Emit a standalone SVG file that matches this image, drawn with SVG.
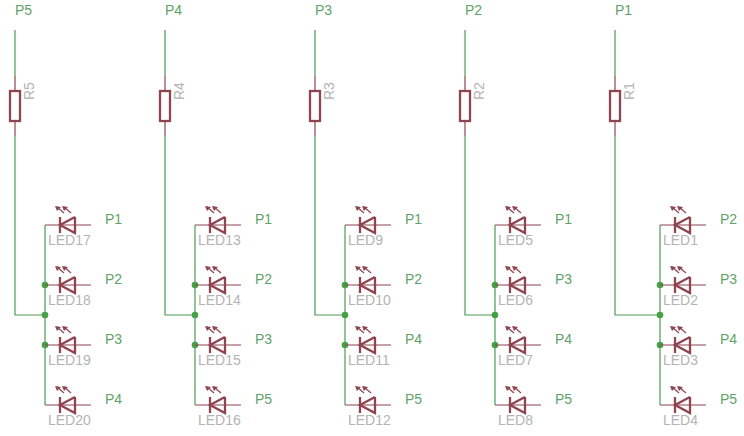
<svg xmlns="http://www.w3.org/2000/svg" xmlns:xlink="http://www.w3.org/1999/xlink" width="744" height="436" viewBox="0 0 744 436">
<style>
.w{stroke:#4f9a55;stroke-width:1.2;fill:none}
.r{stroke:#8f4450;stroke-width:1.2;fill:none}
.b{stroke:#8f4450;stroke-width:2.3;fill:none}
.t{font-family:"Liberation Sans",Arial,sans-serif;font-size:14px;font-weight:normal}
.n{fill:#5fa268}
.g{fill:#b4b4b4}
.d{fill:#46a046}
</style>
<defs>
<g id="led">
<path class="r" d="M0 0H46"/>
<path class="b" d="M15 -8V8M30 -8V8L15 0L30 -8"/>
<path class="r" d="M19 -12L12 -18M26 -12L19 -18"/>
<path fill="#8f4450" d="M10 -19L16 -18L12 -14ZM17 -19L23 -18L19 -14Z"/>
</g>
<g id="res"><path class="r" d="M0 76V91M0 121V136"/><rect class="b" x="-5" y="91" width="10" height="30"/></g>
</defs>
<rect width="744" height="436" fill="#fff"/>
<g id="connectors">
<path class="w" d="M15 30V76M15 136V315H45M45 225V405M165 30V76M165 136V315H195M195 225V405M315 30V76M315 136V315H345M345 225V405M465 30V76M465 136V315H495M495 225V405M615 30V76M615 136V315H660M660 225V405"/>
<circle class="d" cx="45" cy="285" r="3.3"/><circle class="d" cx="45" cy="315" r="3.3"/><circle class="d" cx="45" cy="345" r="3.3"/>
<circle class="d" cx="195" cy="285" r="3.3"/><circle class="d" cx="195" cy="315" r="3.3"/><circle class="d" cx="195" cy="345" r="3.3"/>
<circle class="d" cx="345" cy="285" r="3.3"/><circle class="d" cx="345" cy="315" r="3.3"/><circle class="d" cx="345" cy="345" r="3.3"/>
<circle class="d" cx="495" cy="285" r="3.3"/><circle class="d" cx="495" cy="315" r="3.3"/><circle class="d" cx="495" cy="345" r="3.3"/>
<circle class="d" cx="660" cy="285" r="3.3"/><circle class="d" cx="660" cy="315" r="3.3"/><circle class="d" cx="660" cy="345" r="3.3"/>
</g>
<g id="net-P5"><text class="t n" x="15" y="15">P5</text></g>
<g id="net-P4"><text class="t n" x="165" y="15">P4</text></g>
<g id="net-P3"><text class="t n" x="315" y="15">P3</text></g>
<g id="net-P2"><text class="t n" x="465" y="15">P2</text></g>
<g id="net-P1"><text class="t n" x="615" y="15">P1</text></g>
<g id="R5"><use xlink:href="#res" href="#res" x="15"/><text class="t g" transform="translate(34,100) rotate(-90)">R5</text></g>
<g id="R4"><use xlink:href="#res" href="#res" x="165"/><text class="t g" transform="translate(184,100) rotate(-90)">R4</text></g>
<g id="R3"><use xlink:href="#res" href="#res" x="315"/><text class="t g" transform="translate(334,100) rotate(-90)">R3</text></g>
<g id="R2"><use xlink:href="#res" href="#res" x="465"/><text class="t g" transform="translate(484,100) rotate(-90)">R2</text></g>
<g id="R1"><use xlink:href="#res" href="#res" x="615"/><text class="t g" transform="translate(634,100) rotate(-90)">R1</text></g>
<g id="LED17"><use href="#led" x="45" y="225"/><text class="t g" x="48" y="245">LED17</text><text class="t n" x="105" y="224">P1</text></g>
<g id="LED18"><use href="#led" x="45" y="285"/><text class="t g" x="48" y="305">LED18</text><text class="t n" x="105" y="284">P2</text></g>
<g id="LED19"><use href="#led" x="45" y="345"/><text class="t g" x="48" y="365">LED19</text><text class="t n" x="105" y="344">P3</text></g>
<g id="LED20"><use href="#led" x="45" y="405"/><text class="t g" x="48" y="425">LED20</text><text class="t n" x="105" y="404">P4</text></g>
<g id="LED13"><use href="#led" x="195" y="225"/><text class="t g" x="198" y="245">LED13</text><text class="t n" x="255" y="224">P1</text></g>
<g id="LED14"><use href="#led" x="195" y="285"/><text class="t g" x="198" y="305">LED14</text><text class="t n" x="255" y="284">P2</text></g>
<g id="LED15"><use href="#led" x="195" y="345"/><text class="t g" x="198" y="365">LED15</text><text class="t n" x="255" y="344">P3</text></g>
<g id="LED16"><use href="#led" x="195" y="405"/><text class="t g" x="198" y="425">LED16</text><text class="t n" x="255" y="404">P5</text></g>
<g id="LED9"><use href="#led" x="345" y="225"/><text class="t g" x="348" y="245">LED9</text><text class="t n" x="405" y="224">P1</text></g>
<g id="LED10"><use href="#led" x="345" y="285"/><text class="t g" x="348" y="305">LED10</text><text class="t n" x="405" y="284">P2</text></g>
<g id="LED11"><use href="#led" x="345" y="345"/><text class="t g" x="348" y="365">LED11</text><text class="t n" x="405" y="344">P4</text></g>
<g id="LED12"><use href="#led" x="345" y="405"/><text class="t g" x="348" y="425">LED12</text><text class="t n" x="405" y="404">P5</text></g>
<g id="LED5"><use href="#led" x="495" y="225"/><text class="t g" x="498" y="245">LED5</text><text class="t n" x="555" y="224">P1</text></g>
<g id="LED6"><use href="#led" x="495" y="285"/><text class="t g" x="498" y="305">LED6</text><text class="t n" x="555" y="284">P3</text></g>
<g id="LED7"><use href="#led" x="495" y="345"/><text class="t g" x="498" y="365">LED7</text><text class="t n" x="555" y="344">P4</text></g>
<g id="LED8"><use href="#led" x="495" y="405"/><text class="t g" x="498" y="425">LED8</text><text class="t n" x="555" y="404">P5</text></g>
<g id="LED1"><use href="#led" x="660" y="225"/><text class="t g" x="663" y="245">LED1</text><text class="t n" x="720" y="224">P2</text></g>
<g id="LED2"><use href="#led" x="660" y="285"/><text class="t g" x="663" y="305">LED2</text><text class="t n" x="720" y="284">P3</text></g>
<g id="LED3"><use href="#led" x="660" y="345"/><text class="t g" x="663" y="365">LED3</text><text class="t n" x="720" y="344">P4</text></g>
<g id="LED4"><use href="#led" x="660" y="405"/><text class="t g" x="663" y="425">LED4</text><text class="t n" x="720" y="404">P5</text></g>
</svg>
